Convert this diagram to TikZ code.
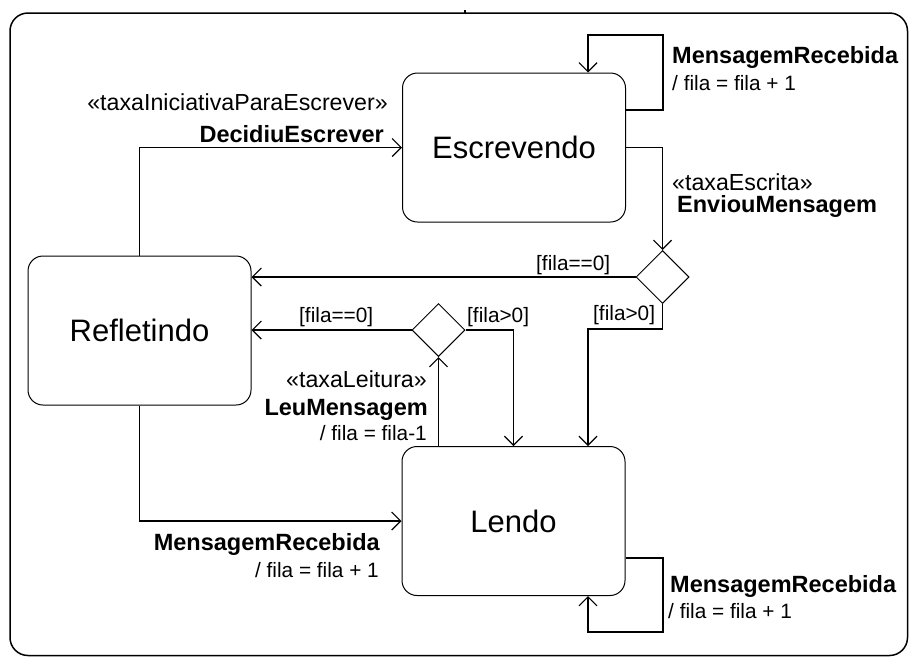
\documentclass[tikz,border=0pt]{standalone}
\usepackage{fontspec}
\setmainfont{Liberation Sans}
\usetikzlibrary{arrows.meta,shapes.geometric}
\begin{document}
\begin{tikzpicture}[x=1pt,y=-1pt,
 statebox/.style={draw, line width=1pt, rounded corners=15pt, minimum width=223pt, minimum height=149pt, inner sep=0pt, font=\fontsize{31}{36}\selectfont},
 choice/.style={draw, line width=1pt, diamond, minimum width=53pt, minimum height=53pt, inner sep=0pt},
 conn/.style={line width=1.4pt, -{Straight Barb[length=9pt,width=18pt,line width=1.2pt]}},
 lbl/.style={inner sep=0pt, font=\fontsize{20.8}{25}\selectfont},
 slbl/.style={inner sep=0pt, font=\fontsize{23.2}{27}\selectfont},
 blbl/.style={inner sep=0pt, font=\fontsize{23.5}{28}\selectfont\bfseries}]
\useasboundingbox (0,0) rectangle (909,657);
\draw[line width=1.5pt, rounded corners=18pt] (10,13) rectangle (907.5,655.5);
\draw[line width=1.2pt] (465,10) -- (465,13);

\node[statebox] (esc) at (514,147.5) {Escrevendo};
\node[statebox] (ref) at (139.5,330.5) {Refletindo};
\node[statebox] (len) at (513.5,521) {Lendo};
\node[choice] (d1) at (662.5,277) {};
\node[choice] (d2) at (438.5,330) {};

\coordinate (e1) at (663,35);
\coordinate (k1) at (588,329);
\coordinate (l1) at (663,632);

\draw[conn] (ref.north) |- (esc.west);
\draw[conn] ([yshift=37.5pt]esc.east) -| (e1) -| ([xshift=74pt]esc.north);
\draw[conn] (esc.east) -| (d1.north);
\draw[conn] (d1.west) -- (d1.west -| ref.east);
\draw[conn] (d1.south) |- (k1) -- (k1 |- len.north);
\draw[conn] (d2.south |- len.north) -- (d2.south);
\draw[conn] (d2.west) -- (d2.west -| ref.east);
\draw[conn] (d2.east) -| (len.north);
\draw[conn] (ref.south) |- (len.west);
\draw[conn] ([yshift=-37pt]len.east) -| (l1) -| ([xshift=74.5pt]len.south);

\node[slbl, anchor=base east] (t1a) at (388,110) {«taxaIniciativaParaEscrever»};
\node[blbl, anchor=base east] (t1b) at (384,142) {DecidiuEscrever};
\node[blbl, anchor=base west] (t2a) at (672,63) {MensagemRecebida};
\node[lbl, anchor=base west] (t2b) at (672,90) {/ fila = fila + 1};
\node[slbl, anchor=base west] (t3a) at (672,190) {«taxaEscrita»};
\node[blbl, anchor=base west] (t3b) at (677,212) {EnviouMensagem};
\node[lbl, anchor=base west] (t4) at (536,270) {[fila==0]};
\node[lbl, anchor=base west] (t5) at (593,320) {[fila>0]};
\node[lbl, anchor=base west] (t6) at (299,322) {[fila==0]};
\node[lbl, anchor=base west] (t7) at (467,322) {[fila>0]};
\node[slbl, anchor=base east] (t8a) at (427,387) {«taxaLeitura»};
\node[blbl, anchor=base east] (t8b) at (428,415) {LeuMensagem};
\node[lbl, anchor=base east] (t8c) at (427,440) {/ fila = fila-1};
\node[blbl, anchor=base east] (t9a) at (380,550) {MensagemRecebida};
\node[lbl, anchor=base east] (t9b) at (379,577) {/ fila = fila + 1};
\node[blbl, anchor=base west] (t10a) at (670,592) {MensagemRecebida};
\node[lbl, anchor=base west] (t10b) at (668,618) {/ fila = fila + 1};
\end{tikzpicture}
\end{document}
